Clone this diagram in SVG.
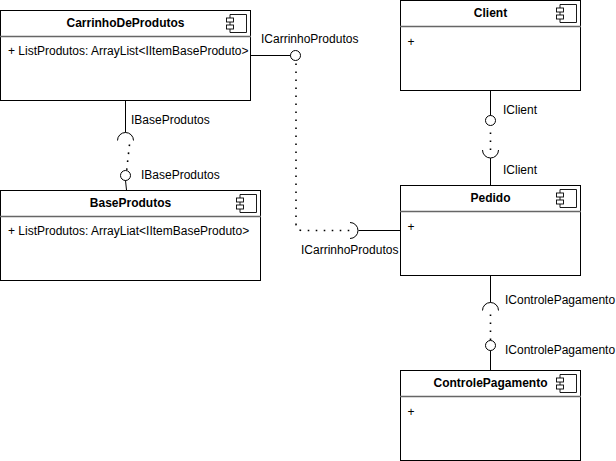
<svg xmlns="http://www.w3.org/2000/svg" width="616" height="461" viewBox="0 0 616 461">
<style>
text{font-family:"Liberation Sans",Arial,sans-serif;font-size:12px;fill:#000}
.t{font-weight:bold;text-anchor:middle}
.box{fill:#fff;stroke:#000;stroke-width:1}
.sep{stroke:#666;stroke-width:1.4;fill:none}
.ic{fill:#fff;stroke:#000;stroke-width:.9}
.ln{fill:none;stroke:#000;stroke-width:1}
.dot{fill:none;stroke:#000;stroke-width:1.6;stroke-dasharray:1.6 6.4}
</style>
<defs>
<g id="icon">
<path class="ic" d="M3.500 0H20V18H3.500Z"/>
<rect class="ic" x="0" y="3.500" width="7" height="4"/>
<rect class="ic" x="0" y="10.500" width="7" height="4"/>
</g>
</defs>
<rect width="616" height="461" fill="#fff"/>
<g id="connectors">
<path class="ln" d="M250 55.500H290.500"/>
<path class="dot" d="M296 63.500V223.500Q296 230.500 302 230.500H352"/>
<path class="ln" d="M358.500 230.500H400.500"/>
<path class="ln" d="M350 222.500A8 8 0 0 1 350 238.500"/>
<path class="ln" d="M125.500 100V132.500"/>
<path class="ln" d="M117.500 140.500A8 8 0 0 1 133.500 140.500"/>
<path class="dot" d="M129.500 144.500L126.700 170"/>
<path class="ln" d="M125.500 180.500L126.500 190"/>
<path class="ln" d="M490.500 90V115.500"/>
<path class="dot" d="M490.500 132.500V151"/>
<path class="ln" d="M482.500 150A8 8 0 0 0 498.500 150"/>
<path class="ln" d="M490.500 158V185"/>
<path class="ln" d="M490.500 275V302.500"/>
<path class="ln" d="M482.500 310.500A8 8 0 0 1 498.500 310.500"/>
<path class="dot" d="M490.500 314.500V341"/>
<path class="ln" d="M490.500 350.500V370"/>
<circle class="ln" cx="295.500" cy="55.500" r="5"/>
<circle class="ln" cx="125.500" cy="175.500" r="5"/>
<circle class="ln" cx="490.500" cy="120.500" r="5"/>
<circle class="ln" cx="490.500" cy="345.500" r="5"/>
</g>
<g id="CarrinhoDeProdutos">
<rect class="box" x="0.500" y="10.500" width="250" height="90"/>
<path class="sep" d="M0 36.500H251"/>
<text class="t" x="125.500" y="27">CarrinhoDeProdutos</text>
<use href="#icon" x="226.500" y="14.500"/>
<text x="8" y="55">+ ListProdutos: ArrayList&lt;IItemBaseProduto&gt;</text>
</g>
<g id="BaseProdutos">
<rect class="box" x="0.500" y="190.500" width="260" height="90"/>
<path class="sep" d="M0 216.500H261"/>
<text class="t" x="130.500" y="207">BaseProdutos</text>
<use href="#icon" x="236.500" y="194.500"/>
<text x="8" y="235">+ ListProdutos: ArrayLiat&lt;IItemBaseProduto&gt;</text>
</g>
<g id="Client">
<rect class="box" x="400.500" y="0.500" width="180" height="90"/>
<path class="sep" d="M400 26.500H581"/>
<text class="t" x="490.500" y="17">Client</text>
<use href="#icon" x="556.500" y="4.500"/>
<text x="407.500" y="46">+</text>
</g>
<g id="Pedido">
<rect class="box" x="400.500" y="185.500" width="180" height="90"/>
<path class="sep" d="M400 211.500H581"/>
<text class="t" x="490.500" y="202">Pedido</text>
<use href="#icon" x="556.500" y="189.500"/>
<text x="407.500" y="231">+</text>
</g>
<g id="ControlePagamento">
<rect class="box" x="400.500" y="370.500" width="180" height="90"/>
<path class="sep" d="M400 396.500H581"/>
<text class="t" x="490.500" y="387">ControlePagamento</text>
<use href="#icon" x="556.500" y="374.500"/>
<text x="407.500" y="416">+</text>
</g>
<g id="labels">
<text x="261" y="43">ICarrinhoProdutos</text>
<text x="301" y="254">ICarrinhoProdutos</text>
<text x="131" y="124">IBaseProdutos</text>
<text x="141" y="179">IBaseProdutos</text>
<text x="503" y="114">IClient</text>
<text x="503" y="174">IClient</text>
<text x="505" y="304">IControlePagamento</text>
<text x="505" y="354">IControlePagamento</text>
</g>
</svg>
